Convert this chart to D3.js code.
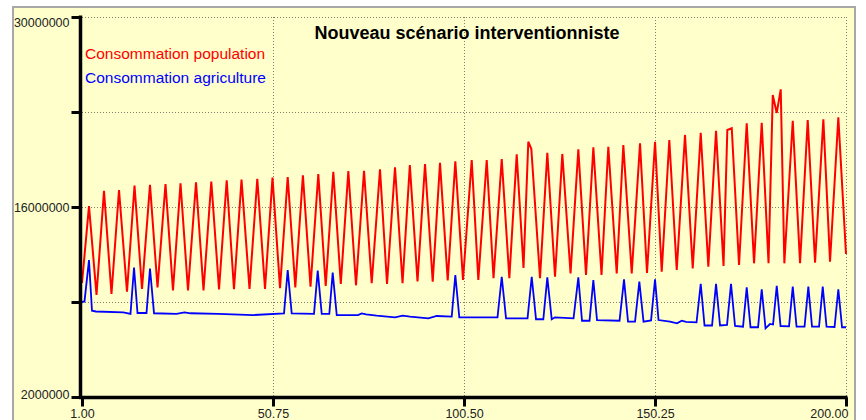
<!DOCTYPE html>
<html>
<head>
<meta charset="utf-8">
<script src="https://cdn.jsdelivr.net/npm/d3@7/dist/d3.min.js"></script>
<style>
  html, body { margin: 0; padding: 0; background: #ffffff; }
  svg { display: block; }
  text { font-family: "Liberation Sans", Arial, sans-serif; }
</style>
</head>
<body>
<svg id="chart" width="866" height="420"></svg>
<script>
// Time steps and consumption (millions) for the population series
const popT = [
  1.00, 2.82, 4.78, 6.73, 8.68, 10.64, 12.72, 14.68, 16.63, 18.71,
  20.67, 22.75, 24.70, 26.66, 28.61, 30.70, 32.65, 34.68, 36.69, 38.69,
  40.59, 42.55, 44.63, 46.66, 48.67, 50.62, 52.58, 54.58, 56.56, 58.54,
  60.52, 62.55, 64.48, 66.46, 68.41, 70.37, 72.37, 74.46, 76.46, 78.62,
  80.45, 82.53, 84.49, 86.39, 88.39, 90.35, 92.35, 94.25, 96.26, 98.24,
  100.24, 102.51, 104.23, 106.42, 108.19, 110.33, 112.31, 114.23, 116.00, 117.25,
  118.04, 120.30, 122.20, 124.21, 126.11, 128.25, 130.28, 132.28, 134.19, 136.32,
  138.09, 140.28, 142.00, 144.19, 146.35, 148.17, 150.26, 152.00, 153.98, 155.91,
  158.07, 160.08, 162.16, 164.14, 166.15, 168.10, 169.09, 170.24, 172.14, 174.14,
  176.05, 178.05, 179.82, 180.92, 181.96, 183.00, 183.94, 186.13, 188.03, 190.03,
  191.94, 194.10, 195.84, 198.00, 200.00
];
const popV = [
  10.40, 16.07, 9.52, 17.20, 9.59, 17.25, 9.76, 17.58, 9.96, 17.64,
  10.07, 17.69, 9.85, 17.75, 9.85, 17.82, 9.85, 17.88, 9.92, 17.97,
  9.94, 18.02, 9.96, 18.08, 9.96, 18.16, 10.01, 18.21, 10.08, 18.34,
  10.13, 18.43, 10.18, 18.60, 10.33, 18.65, 10.23, 18.67, 10.38, 18.78,
  10.33, 18.93, 10.38, 19.09, 10.51, 19.17, 10.50, 19.26, 10.58, 19.37,
  10.62, 19.46, 10.62, 19.46, 10.75, 19.54, 10.75, 19.88, 11.51, 20.81,
  20.27, 10.75, 20.00, 10.86, 19.91, 11.11, 20.25, 10.99, 20.40, 10.99,
  20.44, 11.11, 20.57, 11.11, 20.69, 11.14, 20.81, 11.23, 20.94, 11.36,
  21.31, 11.48, 21.47, 11.60, 21.62, 11.65, 21.67, 21.80, 11.73, 22.17,
  11.85, 22.21, 11.85, 24.25, 22.93, 24.67, 11.85, 22.36, 11.85, 22.41,
  11.90, 22.46, 11.97, 22.61, 12.54
];

// Time steps and consumption (millions) for the agriculture series
const agriT = [
  1.00, 1.65, 2.82, 3.60, 4.65, 11.76, 13.63, 14.55, 15.46, 17.80,
  18.71, 19.76, 25.62, 27.70, 29.26, 36.50, 45.62, 53.62, 54.58, 55.62,
  61.43, 62.40, 63.44, 65.42, 66.30, 67.35, 72.89, 73.86, 74.98, 77.77,
  82.53, 84.54, 86.44, 91.21, 93.39, 97.30, 98.24, 99.28, 108.14, 109.23,
  110.33, 111.45, 117.05, 118.14, 119.26, 121.16, 122.20, 123.35, 124.21, 129.03,
  130.28, 131.24, 133.20, 134.19, 135.15, 141.01, 142.18, 143.22, 145.05, 146.17,
  147.26, 149.22, 150.26, 151.17, 154.16, 155.99, 157.21, 158.33, 161.07, 162.16,
  163.15, 165.11, 166.15, 167.19, 169.01, 170.05, 171.10, 173.18, 174.14, 175.13,
  177.09, 178.05, 179.04, 180.21, 181.00, 181.96, 182.95, 185.16, 186.13, 187.12,
  189.20, 190.19, 191.15, 192.98, 193.94, 194.93, 197.02, 198.00, 198.97, 200.00
];
const agriV = [
  9.00, 9.04, 12.09, 8.36, 8.30, 8.23, 8.12, 11.54, 8.19, 8.19,
  11.47, 8.17, 8.12, 8.24, 8.17, 8.12, 8.04, 8.16, 11.36, 8.16,
  8.12, 11.31, 8.12, 8.12, 11.16, 8.04, 8.04, 8.16, 8.08, 7.99,
  7.87, 7.99, 7.92, 7.80, 7.97, 7.92, 10.99, 7.87, 7.87, 7.87,
  10.86, 7.80, 7.80, 10.86, 7.73, 7.73, 10.82, 7.73, 7.87, 7.80,
  10.82, 7.62, 7.62, 10.62, 7.67, 7.62, 10.67, 7.55, 7.55, 10.50,
  7.55, 7.64, 10.67, 7.67, 7.55, 7.43, 7.62, 7.53, 7.50, 10.33,
  7.27, 7.27, 10.33, 7.27, 7.31, 10.33, 7.23, 7.18, 10.08, 7.14,
  7.14, 9.94, 7.06, 7.38, 7.34, 10.20, 7.23, 7.20, 10.13, 7.18,
  7.18, 10.13, 7.18, 7.18, 10.13, 7.18, 7.16, 9.94, 7.14, 7.14
];

// Axis ticks (values in millions for y)
const xTicks = [1, 50.75, 100.5, 150.25, 200];
const yTicks = [2, 9, 16, 23, 30];
const yLabelled = [2, 16, 30];

const titleText = "Nouveau scénario interventionniste";
const seriesNames = ["Consommation population", "Consommation agriculture"];
const seriesColors = ["#ff0000", "#0000ff"];

const svg = d3.select("#chart");

// panel background with grey frame
svg.append("rect")
  .attr("x", 13).attr("y", 7)
  .attr("width", 842).attr("height", 430)
  .attr("fill", "#ffffcc")
  .attr("stroke", "#a8a8a8")
  .attr("stroke-width", 2);

const x = d3.scaleLinear().domain([1, 200]).range([82, 846]);
const y = d3.scaleLinear().domain([2, 30]).range([397, 17]);

// dotted grid
const grid = svg.append("g")
  .attr("stroke", "#808070")
  .attr("stroke-width", 1)
  .attr("stroke-dasharray", "1,2");
grid.selectAll("line.h")
  .data(yTicks.filter(d => d !== 2))
  .join("line")
  .attr("class", "h")
  .attr("x1", x(1)).attr("x2", x(200))
  .attr("y1", d => Math.round(y(d)) + 0.5)
  .attr("y2", d => Math.round(y(d)) + 0.5);
grid.selectAll("line.v")
  .data(xTicks.filter(d => d !== 1))
  .join("line")
  .attr("class", "v")
  .attr("x1", d => Math.round(x(d)) + 0.5)
  .attr("x2", d => Math.round(x(d)) + 0.5)
  .attr("y1", y(30)).attr("y2", y(2));

// series lines
const popData = popT.map((t, i) => [t, popV[i]]);
const agriData = agriT.map((t, i) => [t, agriV[i]]);
const line = d3.line().x(d => x(d[0])).y(d => y(d[1]));

svg.append("path")
  .datum(popData)
  .attr("d", line)
  .attr("fill", "none")
  .attr("stroke", seriesColors[0])
  .attr("stroke-width", 2)
  .attr("stroke-linejoin", "miter");

svg.append("path")
  .datum(agriData)
  .attr("d", line)
  .attr("fill", "none")
  .attr("stroke", seriesColors[1])
  .attr("stroke-width", 1.8);

// y axis
const yAxis = svg.append("g")
  .attr("transform", "translate(80.5,0)")
  .call(d3.axisLeft(y)
    .tickValues(yTicks)
    .tickSize(9)
    .tickSizeOuter(0)
    .tickPadding(2)
    .tickFormat(d => yLabelled.includes(d) ? String(d * 1000000) : ""));
yAxis.select(".domain")
  .attr("stroke", "#000").attr("stroke-width", 3.5)
  .attr("d", `M0,${y(30) - 1.5}V${y(2) + 2}`);
yAxis.selectAll(".tick line").attr("stroke", "#000").attr("stroke-width", 3);
yAxis.selectAll(".tick text")
  .attr("fill", "#222")
  .style("font-size", "12.5px")
  .attr("dy", d => d === 30 ? "0.72em" : d === 2 ? "0.15em" : "0.32em");

// x axis
const xAxis = svg.append("g")
  .attr("transform", "translate(0,397.5)")
  .call(d3.axisBottom(x)
    .tickValues(xTicks)
    .tickSize(9)
    .tickSizeOuter(0)
    .tickPadding(3)
    .tickFormat(d3.format(".2f")));
xAxis.select(".domain")
  .attr("stroke", "#000").attr("stroke-width", 3.5)
  .attr("d", `M${x(1) - 3},0H${x(200) + 1.5}`);
xAxis.selectAll(".tick line").attr("stroke", "#000").attr("stroke-width", 3);
xAxis.selectAll(".tick text")
  .attr("fill", "#222")
  .style("font-size", "12.5px")
  .attr("text-anchor", d => d === 200 ? "end" : "middle")
  .attr("dx", d => d === 200 ? "2" : "0");

// title
svg.append("text")
  .attr("x", 467).attr("y", 38.5)
  .attr("text-anchor", "middle")
  .style("font-size", "18px")
  .style("font-weight", "bold")
  .attr("fill", "#000")
  .text(titleText);

// legend
svg.selectAll("text.legend")
  .data(seriesNames)
  .join("text")
  .attr("class", "legend")
  .attr("x", 85)
  .attr("y", (d, i) => 58.5 + i * 24)
  .style("font-size", "15.5px")
  .attr("fill", (d, i) => seriesColors[i])
  .text(d => d);
</script>
</body>
</html>
